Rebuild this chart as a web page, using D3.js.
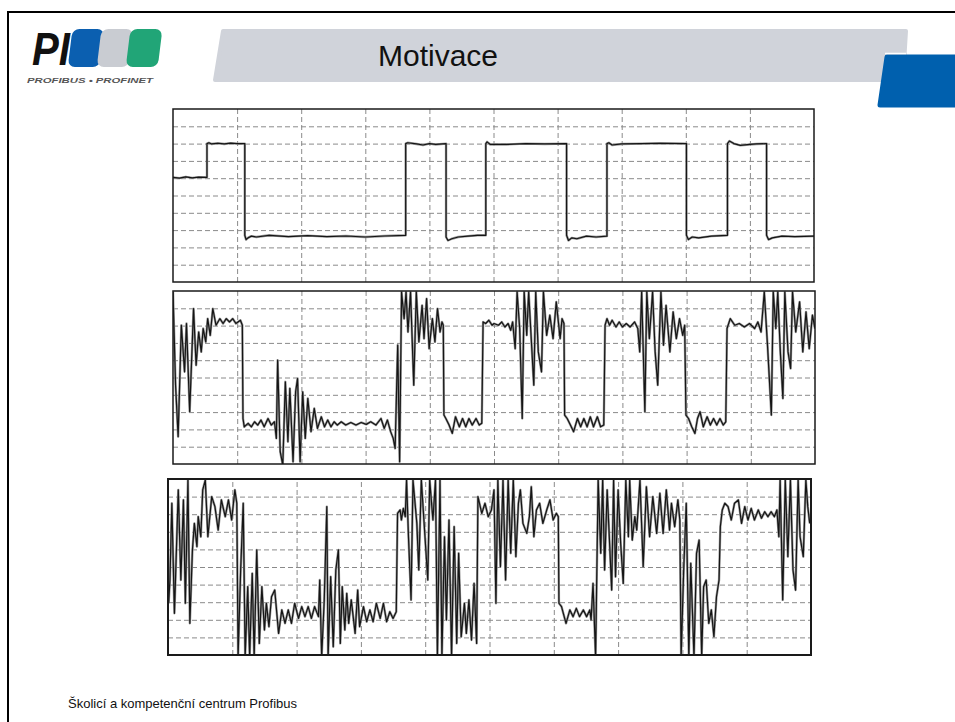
<!DOCTYPE html>
<html><head><meta charset="utf-8">
<script src="https://cdn.jsdelivr.net/npm/d3@7"></script>
<style>body{margin:0;background:#fff}svg{display:block}</style>
</head><body>
<svg id="c" width="955" height="722"></svg>
<script>
// ---------- data ----------
const titleText = "Motivace";
const footerText = "Školicí a kompetenční centrum Profibus";
const logoText = "PI";
const logoSub = "PROFIBUS • PROFINET";
const gridX = [1,2,3,4,5,6,7,8,9];
const gridY = [1,2,3,4,5,6,7,8,9];
// [time (divisions), level (divisions)]
const trace1 = [[0,6.05],[0.1,6.0],[0.2,6.08],[0.3,6.02],[0.4,6.06],[0.53,6.05],[0.53,8.0],[0.56,8.05],[0.6,7.98],[0.7,8.02],[0.8,7.98],[0.9,8.03],[1.0,8.0],[1.12,8.0],[1.12,2.7],[1.14,2.45],[1.17,2.55],[1.22,2.65],[1.3,2.6],[1.5,2.7],[1.8,2.62],[2.1,2.68],[2.4,2.62],[2.7,2.66],[3.0,2.6],[3.3,2.66],[3.63,2.7],[3.63,8.0],[3.66,8.05],[3.8,7.98],[3.9,7.92],[4.0,8.0],[4.1,7.95],[4.26,8.0],[4.26,2.6],[4.29,2.4],[4.35,2.5],[4.45,2.6],[4.6,2.65],[4.75,2.7],[4.88,2.7],[4.88,8.0],[4.9,8.1],[4.95,7.95],[5.2,7.95],[5.5,8.0],[5.8,7.98],[6.14,8.0],[6.14,2.7],[6.17,2.4],[6.22,2.55],[6.3,2.5],[6.45,2.65],[6.6,2.6],[6.77,2.65],[6.77,8.0],[6.8,8.05],[6.85,7.92],[7.0,7.98],[7.3,8.0],[7.6,8.02],[8.01,8.0],[8.01,2.7],[8.04,2.45],[8.1,2.6],[8.2,2.55],[8.4,2.65],[8.65,2.7],[8.65,8.0],[8.68,8.15],[8.75,8.0],[8.85,7.9],[9.0,7.95],[9.1,7.98],[9.26,8.0],[9.26,2.7],[9.29,2.45],[9.35,2.55],[9.5,2.65],[9.7,2.62],[10,2.65]];
const trace2 = [[0,9.94],[0.04,4.56],[0.08,1.58],[0.13,8.02],[0.18,5.33],[0.21,8.12],[0.26,3.02],[0.32,8.98],[0.36,5.71],[0.40,7.63],[0.44,6.48],[0.47,7.83],[0.51,7.06],[0.54,8.40],[0.58,7.44],[0.62,8.98],[0.67,8.02],[0.73,8.40],[0.78,8.12],[0.83,8.40],[0.88,8.21],[0.93,8.40],[0.98,8.12],[1.05,8.31],[1.08,8.02],[1.09,2.63],[1.11,2.15],[1.17,2.35],[1.22,2.15],[1.27,2.44],[1.32,2.25],[1.37,2.54],[1.42,2.15],[1.48,2.63],[1.53,2.25],[1.58,2.44],[1.61,1.48],[1.63,6.0],[1.67,0.71],[1.71,-0.06],[1.75,4.75],[1.79,1.29],[1.82,4.37],[1.87,0.13],[1.91,4.17],[1.94,4.94],[1.98,0.13],[2.02,4.17],[2.06,1.48],[2.10,3.79],[2.15,1.87],[2.20,3.21],[2.25,2.06],[2.31,2.73],[2.36,2.15],[2.41,2.54],[2.46,2.15],[2.51,2.44],[2.56,2.25],[2.62,2.44],[2.69,2.25],[2.77,2.40],[2.85,2.25],[2.93,2.40],[3.01,2.29],[3.08,2.44],[3.16,2.25],[3.24,2.63],[3.29,2.06],[3.34,2.54],[3.39,1.87],[3.43,1.48],[3.46,0.90],[3.50,6.87],[3.53,0.13],[3.56,9.94],[3.60,8.40],[3.63,9.94],[3.66,7.63],[3.70,9.94],[3.75,4.56],[3.79,9.94],[3.83,7.06],[3.88,9.17],[3.91,7.25],[3.95,9.56],[3.99,6.67],[4.04,8.40],[4.08,7.06],[4.12,8.98],[4.16,7.63],[4.19,8.21],[4.21,8.02],[4.22,2.83],[4.25,2.63],[4.30,2.25],[4.35,1.77],[4.40,2.73],[4.46,2.15],[4.51,2.63],[4.56,2.15],[4.61,2.63],[4.66,2.25],[4.72,2.63],[4.77,2.25],[4.81,2.35],[4.83,8.21],[4.87,8.12],[4.92,8.31],[4.97,8.02],[5.0,8.12],[5.07,8.02],[5.12,8.21],[5.17,7.92],[5.22,8.12],[5.26,7.73],[5.29,8.21],[5.33,6.67],[5.36,9.94],[5.40,7.83],[5.44,2.63],[5.47,9.94],[5.51,7.44],[5.54,9.94],[5.58,7.25],[5.62,4.56],[5.65,9.94],[5.69,6.48],[5.74,5.33],[5.77,9.94],[5.82,7.44],[5.87,8.60],[5.92,7.25],[5.97,9.37],[6.03,7.25],[6.06,8.40],[6.09,8.12],[6.10,2.83],[6.14,2.63],[6.19,2.25],[6.24,1.87],[6.30,2.63],[6.35,2.15],[6.40,2.63],[6.45,2.15],[6.50,2.73],[6.55,2.15],[6.61,2.73],[6.66,2.15],[6.71,2.25],[6.73,8.02],[6.76,8.40],[6.80,8.02],[6.84,8.31],[6.90,7.92],[6.95,8.21],[7.00,7.92],[7.06,8.12],[7.12,7.92],[7.19,8.21],[7.24,7.83],[7.27,6.48],[7.30,9.94],[7.35,3.02],[7.38,9.94],[7.42,7.25],[7.47,9.94],[7.51,6.48],[7.55,4.56],[7.60,9.94],[7.64,6.87],[7.68,9.17],[7.74,6.48],[7.79,8.79],[7.84,7.25],[7.89,8.40],[7.94,7.44],[7.97,8.02],[7.99,2.83],[8.03,2.63],[8.08,2.15],[8.13,1.77],[8.17,2.63],[8.21,3.02],[8.26,2.15],[8.32,2.73],[8.37,2.25],[8.42,2.63],[8.47,2.25],[8.52,2.63],[8.57,2.25],[8.61,2.44],[8.63,7.83],[8.68,8.40],[8.75,8.02],[8.82,8.12],[8.90,7.92],[8.98,8.12],[9.06,7.83],[9.11,8.21],[9.16,7.63],[9.21,9.94],[9.26,6.87],[9.32,2.83],[9.35,9.94],[9.39,7.83],[9.42,9.94],[9.46,6.48],[9.50,3.79],[9.53,9.94],[9.58,6.48],[9.62,5.52],[9.65,9.94],[9.70,7.63],[9.76,9.37],[9.81,6.48],[9.86,8.79],[9.91,6.67],[9.96,8.60],[10.0,7.83]];
const trace3 = [[0.01,2.94],[0.03,4.26],[0.06,8.62],[0.10,2.37],[0.16,9.38],[0.20,4.26],[0.24,8.81],[0.27,2.94],[0.31,9.94],[0.34,1.80],[0.38,5.97],[0.41,7.48],[0.45,6.16],[0.47,7.86],[0.51,6.72],[0.54,9.38],[0.58,9.94],[0.62,6.72],[0.68,9.00],[0.73,8.43],[0.78,7.10],[0.83,8.81],[0.89,7.86],[0.94,8.81],[0.99,7.67],[1.04,9.38],[1.07,8.62],[1.09,-0.1],[1.13,4.83],[1.17,8.62],[1.20,-0.1],[1.24,3.88],[1.27,-0.1],[1.31,4.64],[1.34,-0.1],[1.38,5.97],[1.42,0.66],[1.46,3.88],[1.50,1.42],[1.53,2.94],[1.57,1.61],[1.61,3.31],[1.66,3.69],[1.72,1.23],[1.77,2.56],[1.82,1.80],[1.87,2.56],[1.92,1.80],[1.97,2.94],[2.03,2.08],[2.08,2.75],[2.13,2.18],[2.18,2.75],[2.23,2.08],[2.28,2.75],[2.34,2.18],[2.36,4.26],[2.39,-0.1],[2.43,3.13],[2.47,8.43],[2.49,-0.1],[2.53,4.45],[2.57,0.47],[2.61,4.83],[2.65,5.97],[2.68,0.66],[2.71,3.88],[2.75,1.42],[2.78,3.50],[2.81,1.80],[2.85,3.13],[2.91,1.23],[2.95,3.69],[2.98,1.61],[3.04,2.75],[3.09,1.89],[3.14,2.56],[3.19,1.89],[3.24,2.94],[3.30,2.08],[3.35,2.94],[3.40,1.89],[3.45,2.46],[3.50,2.08],[3.55,2.46],[3.57,8.05],[3.61,8.24],[3.63,7.67],[3.66,8.33],[3.69,7.86],[3.71,9.94],[3.74,6.72],[3.78,3.13],[3.81,9.94],[3.87,7.48],[3.90,4.83],[3.94,9.94],[3.99,7.10],[4.04,4.26],[4.07,9.94],[4.12,7.67],[4.16,9.94],[4.19,-0.1],[4.23,9.94],[4.26,-0.1],[4.30,6.72],[4.33,1.99],[4.37,7.67],[4.41,-0.1],[4.45,7.29],[4.49,0.66],[4.52,5.78],[4.56,1.04],[4.61,2.94],[4.64,1.23],[4.68,3.13],[4.72,0.85],[4.76,4.07],[4.80,0.66],[4.82,9.00],[4.88,8.05],[4.93,8.62],[4.98,7.86],[5.03,8.24],[5.07,9.38],[5.10,2.94],[5.13,9.94],[5.17,5.02],[5.21,9.94],[5.25,4.26],[5.29,9.94],[5.33,5.78],[5.37,9.94],[5.41,5.59],[5.45,8.62],[5.48,9.38],[5.52,7.48],[5.58,6.91],[5.62,7.86],[5.65,9.56],[5.69,6.72],[5.73,8.24],[5.78,8.62],[5.83,7.48],[5.89,8.24],[5.94,8.81],[5.99,7.67],[6.04,8.05],[6.07,7.86],[6.08,2.94],[6.12,2.75],[6.19,1.80],[6.25,2.56],[6.30,2.18],[6.35,2.65],[6.40,2.18],[6.46,2.56],[6.51,2.18],[6.56,2.56],[6.58,1.99],[6.61,4.07],[6.65,-0.1],[6.69,9.94],[6.73,5.78],[6.76,9.94],[6.79,4.83],[6.83,9.38],[6.87,6.16],[6.90,3.69],[6.93,9.94],[6.96,4.45],[7.00,9.38],[7.04,6.34],[7.08,4.07],[7.12,9.94],[7.16,6.72],[7.18,9.94],[7.22,6.53],[7.26,7.86],[7.29,7.10],[7.34,9.94],[7.39,5.02],[7.44,9.56],[7.49,6.72],[7.54,9.00],[7.60,6.91],[7.65,9.19],[7.70,6.91],[7.75,9.38],[7.80,7.10],[7.83,8.62],[7.88,7.29],[7.93,8.81],[7.96,7.67],[7.98,-0.1],[8.02,4.83],[8.06,8.62],[8.10,-0.1],[8.13,5.21],[8.18,-0.1],[8.22,5.78],[8.26,6.53],[8.30,-0.1],[8.33,3.88],[8.37,4.26],[8.41,1.80],[8.45,2.56],[8.49,1.04],[8.53,3.31],[8.57,4.26],[8.59,7.29],[8.62,8.24],[8.66,8.62],[8.71,8.43],[8.76,7.67],[8.81,8.62],[8.87,8.81],[8.92,7.48],[8.97,8.43],[9.02,7.67],[9.07,8.33],[9.12,7.67],[9.18,8.24],[9.23,7.77],[9.28,8.14],[9.33,7.86],[9.38,8.14],[9.43,7.86],[9.47,8.24],[9.50,6.72],[9.52,9.94],[9.56,3.13],[9.60,9.94],[9.64,5.59],[9.68,9.94],[9.72,4.83],[9.76,3.69],[9.80,9.94],[9.83,6.72],[9.88,5.59],[9.92,9.94],[9.95,8.43],[9.98,7.48]];

// ---------- drawing ----------
const svg = d3.select("#c");
svg.append("rect").attr("width",955).attr("height",722).attr("fill","#fff");

// slide frame
svg.append("path").attr("d","M8,722 V12 H955").attr("fill","none").attr("stroke","#000").attr("stroke-width",2);

// title bar
svg.append("path").attr("d","M223,31 L906,31 L903,80 L215,80 Z")
  .attr("fill","#d0d3da").attr("stroke","#d0d3da").attr("stroke-width",4).attr("stroke-linejoin","round");
svg.append("path").attr("d","M887,57 L960,57 L960,105 L880,105 Z")
  .attr("fill","#0060ae").attr("stroke","#0060ae").attr("stroke-width",5).attr("stroke-linejoin","round");
svg.append("path").attr("d","M885,53.5 L906,53.5").attr("stroke","#fff").attr("stroke-width",1.5);
svg.append("text").attr("x",438).attr("y",66).attr("text-anchor","middle")
  .attr("font-family","Liberation Sans, Arial, sans-serif").attr("font-size",30).attr("fill","#111").text(titleText);

// logo
const logo = svg.append("g");
const blocks = [{x:76,c:"#0b5fb0"},{x:105,c:"#c9ccd2"},{x:134,c:"#21a577"}];
logo.selectAll("rect.b").data(blocks).enter().append("rect")
  .attr("x",d=>d.x).attr("y",29).attr("width",32).attr("height",38).attr("rx",7)
  .attr("fill",d=>d.c).attr("transform","skewX(-7)");
logo.append("text").attr("x",32).attr("y",65).attr("font-family","Liberation Sans, Arial, sans-serif")
  .attr("font-weight","bold").attr("font-style","italic").attr("font-size",46)
  .attr("textLength",38).attr("lengthAdjust","spacingAndGlyphs").attr("fill","#111").text(logoText);
logo.append("text").attr("x",27).attr("y",83).attr("font-family","Liberation Sans, Arial, sans-serif")
  .attr("font-weight","bold").attr("font-style","italic").attr("font-size",8)
  .attr("textLength",126).attr("lengthAdjust","spacingAndGlyphs").attr("fill","#555").text(logoSub);

// panels
const panels = [
  {x:173,y:109,w:641,h:173,data:trace1},
  {x:173,y:291,w:642,h:173,data:trace2},
  {x:168,y:479,w:643,h:176,data:trace3}
];
panels.forEach((p,i)=>{
  const g = svg.append("g").attr("transform",`translate(${p.x},${p.y})`);
  const xs = d3.scaleLinear().domain([0,10]).range([0,p.w]);
  const ys = d3.scaleLinear().domain([0,10]).range([p.h,0]);
  g.append("clipPath").attr("id","cp"+i).append("rect").attr("width",p.w).attr("height",p.h);
  const gx = g.append("g").attr("transform",`translate(0,${p.h})`)
    .call(d3.axisBottom(xs).tickValues(gridX).tickSize(-p.h).tickFormat(""));
  const gy = g.append("g").call(d3.axisLeft(ys).tickValues(gridY).tickSize(-p.w).tickFormat(""));
  [gx,gy].forEach(a=>{
    a.select(".domain").remove();
    a.selectAll("line").attr("stroke","#8a8a8a").attr("stroke-width",1).attr("stroke-dasharray","5,3");
  });
  const line = d3.line().x(d=>xs(d[0])).y(d=>ys(d[1]));
  const tg = g.append("g").attr("clip-path",`url(#cp${i})`);
  tg.append("path").datum(p.data).attr("d",line).attr("fill","none")
    .attr("stroke","#9a9a9a").attr("stroke-width",2.4).attr("stroke-linejoin","round");
  tg.append("path").datum(p.data).attr("d",line).attr("fill","none")
    .attr("stroke","#151515").attr("stroke-width",1.2).attr("stroke-linejoin","round");
  g.append("rect").attr("width",p.w).attr("height",p.h).attr("fill","none")
    .attr("stroke","#1a1a1a").attr("stroke-width",i===2?2:1.5);
});

// footer
svg.append("text").attr("x",68).attr("y",708).attr("font-family","Liberation Sans, Arial, sans-serif")
  .attr("font-size",13).attr("fill","#111").text(footerText);
</script>
</body></html>
